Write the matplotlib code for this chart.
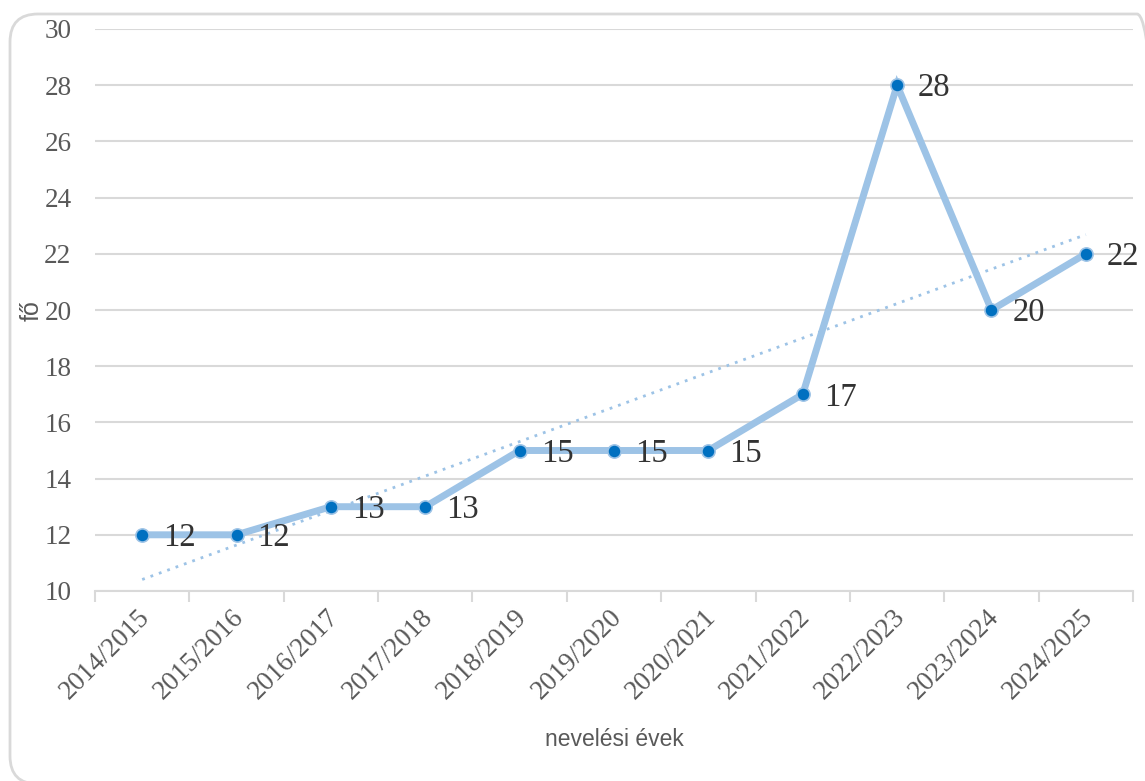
import matplotlib.pyplot as plt
import numpy as np
from matplotlib.patches import FancyBboxPatch
from matplotlib.transforms import ScaledTranslation, IdentityTransform

# data
years = ['2014/2015', '2015/2016', '2016/2017', '2017/2018', '2018/2019',
         '2019/2020', '2020/2021', '2021/2022', '2022/2023', '2023/2024',
         '2024/2025']
fo = [12, 12, 13, 13, 15, 15, 15, 17, 28, 20, 22]
yticks = [10, 12, 14, 16, 18, 20, 22, 24, 26, 28, 30]

W, H = 1145, 781
fig = plt.figure(figsize=(W / 100, H / 100), dpi=100)

# rounded frame, drawn in display pixels (origin bottom-left)
frame = FancyBboxPatch((10, H - 784), 1165 - 10, 784 - 14,
                       boxstyle='round,pad=0,rounding_size=28',
                       fill=False, edgecolor='#D9D9D9', linewidth=2,
                       transform=IdentityTransform())
fig.patches.append(frame)

ax = fig.add_axes([95 / W, 1 - 591 / H, (1133 - 95) / W, (591 - 29) / H])
ax.patch.set_alpha(0)

x = np.arange(len(years))

# trendline
k, b = np.polyfit(x, fo, 1)
ax.plot(x, k * x + b, color='#9DC3E6', lw=2, ls=(0, (1, 2.2)), zorder=2)

ax.plot(x, fo, color='#9DC3E6', lw=5, zorder=3, solid_joinstyle='miter')
ax.plot(x, fo, 'o', color='#0070C0', ms=9.5, mec='#9DC3E6', mew=1.2, zorder=4)

for xi, v in zip(x, fo):
    ax.annotate(str(v), (xi, v), xytext=(21, -3), textcoords='offset pixels',
                ha='left', va='center', fontsize=23.5, color='#333333',
                family='Liberation Serif', zorder=5)

ax.set_xlim(-0.5, len(years) - 0.5)
ax.set_ylim(10, 30)
ax.set_yticks(yticks)
ax.set_yticklabels([str(t) for t in yticks], family='Liberation Serif',
                   fontsize=19.5, color='#595959')
ax.tick_params(axis='y', length=0, pad=17)
ax.grid(axis='y', color='#D9D9D9', lw=1.5)
ax.set_axisbelow(True)

ax.set_xticks(np.arange(-0.5, len(years), 1))
ax.set_xticklabels([])
ax.set_xticks(x, minor=True)
ax.set_xticklabels(years, minor=True, rotation=45, ha='right', va='top',
                   rotation_mode='anchor', family='Liberation Serif',
                   fontsize=19.5, color='#595959')
ax.tick_params(axis='x', which='major', length=8, color='#D9D9D9', width=1.5)
ax.tick_params(axis='x', which='minor', length=0, pad=10)
shift = ScaledTranslation(-5 / 100, 0, fig.dpi_scale_trans)
for lab in ax.get_xticklabels(minor=True):
    lab.set_transform(lab.get_transform() + shift)

for s in ['top', 'right', 'left']:
    ax.spines[s].set_visible(False)
ax.spines['bottom'].set_color('#D9D9D9')
ax.spines['bottom'].set_linewidth(1.5)

fig.text(32 / W, 1 - 311 / H, 'fő', rotation=90, ha='center', va='center',
         fontsize=18, color='#595959', family='Liberation Sans')
fig.text(614 / W, 1 - 740 / H, 'nevelési évek', ha='center', va='center',
         fontsize=16.5, color='#595959', family='Liberation Sans')

fig.savefig('out.png', dpi=100)
